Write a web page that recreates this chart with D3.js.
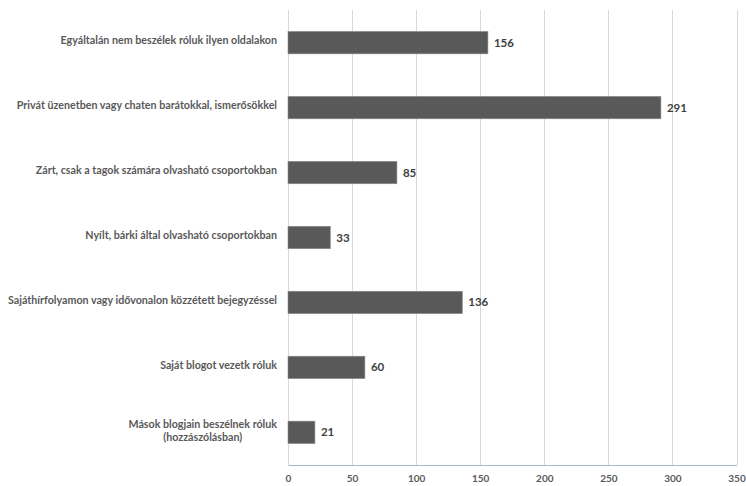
<!DOCTYPE html>
<html>
<meta charset="utf-8">
<style>
  body { margin: 0; background: #fff; }
  text { font-family: Lato, "Liberation Sans", sans-serif; }
</style>
<body>
</body>
<script src="https://cdn.jsdelivr.net/npm/d3@7"></script>
<script>

var categories = [
  ["Egyáltalán nem beszélek róluk ilyen oldalakon"],
  ["Privát üzenetben vagy chaten barátokkal, ismerősökkel"],
  ["Zárt, csak a tagok számára olvasható csoportokban"],
  ["Nyílt, bárki által olvasható csoportokban"],
  ["Sajáthírfolyamon vagy idővonalon közzétett bejegyzéssel"],
  ["Saját blogot vezetk róluk"],
  ["Mások blogjain beszélnek róluk", "(hozzászólásban)"]
];
var values = [156, 291, 85, 33, 136, 60, 21];
var ticks = [0, 50, 100, 150, 200, 250, 300, 350];

var width = 746, height = 486;
var margin = { top: 10, right: 9.5, bottom: 21, left: 288 };

var svg = d3.select("body").append("svg")
    .attr("width", width)
    .attr("height", height);

var x = d3.scaleLinear()
    .domain([0, 350])
    .range([margin.left, width - margin.right]);

var y = d3.scaleBand()
    .domain(d3.range(values.length))
    .range([margin.top, height - margin.bottom])
    .paddingInner(0.655)
    .paddingOuter(0.33);

// gridlines
svg.append("g").selectAll("line")
  .data(ticks).enter()
  .append("line")
    .attr("x1", function (d) { return Math.round(x(d)) + 0.5; })
    .attr("x2", function (d) { return Math.round(x(d)) + 0.5; })
    .attr("y1", margin.top)
    .attr("y2", height - margin.bottom)
    .attr("stroke", "#d9d9d9")
    .attr("stroke-width", 1);

// bottom axis
var xAxis = svg.append("g")
    .attr("transform", "translate(0," + (height - margin.bottom) + ")")
    .call(d3.axisBottom(x).tickValues(ticks).tickSize(0).tickPadding(10));
xAxis.select(".domain").attr("stroke", "#9fbcc8");
xAxis.selectAll("text")
    .attr("fill", "#595959")
    .attr("font-size", "10px")
    .attr("font-weight", 700);

// bars
svg.append("g").selectAll("rect")
  .data(values).enter()
  .append("rect")
    .attr("x", x(0))
    .attr("y", function (d, i) { return y(i); })
    .attr("width", function (d) { return x(d) - x(0); })
    .attr("height", y.bandwidth())
    .attr("fill", "#595959")
    .attr("stroke", "#8c8c8c")
    .attr("stroke-width", 0.6);

// value labels
svg.append("g").selectAll("text")
  .data(values).enter()
  .append("text")
    .attr("x", function (d) { return x(d) + 6; })
    .attr("y", function (d, i) { return y(i) + y.bandwidth() / 2; })
    .attr("dy", "0.35em")
    .attr("fill", "#404040")
    .attr("font-size", "11.5px")
    .attr("font-weight", 700)
    .text(function (d) { return d; });

// category labels
svg.append("g").selectAll("text")
  .data(categories).enter()
  .append("text")
    .attr("fill", "#595959")
    .attr("font-size", "10.7px")
    .attr("font-weight", 700)
    .each(function (d, i) {
      var cy = y(i) + y.bandwidth() / 2;
      var lh = 13;
      var y0 = cy - (d.length - 1) * lh / 2 - 2;
      var sel = d3.select(this);
      var first = sel.append("tspan")
          .attr("text-anchor", "end")
          .attr("x", margin.left - 11)
          .attr("y", y0)
          .attr("dy", "0.35em")
          .text(d[0]);
      if (d.length > 1) {
        var w = first.node().getComputedTextLength();
        var cx = margin.left - 11 - w / 2;
        d.slice(1).forEach(function (t, j) {
          sel.append("tspan")
            .attr("text-anchor", "middle")
            .attr("x", cx)
            .attr("y", y0 + (j + 1) * lh)
            .attr("dy", "0.35em")
            .text(t);
        });
      }
    });
</script>
</html>
